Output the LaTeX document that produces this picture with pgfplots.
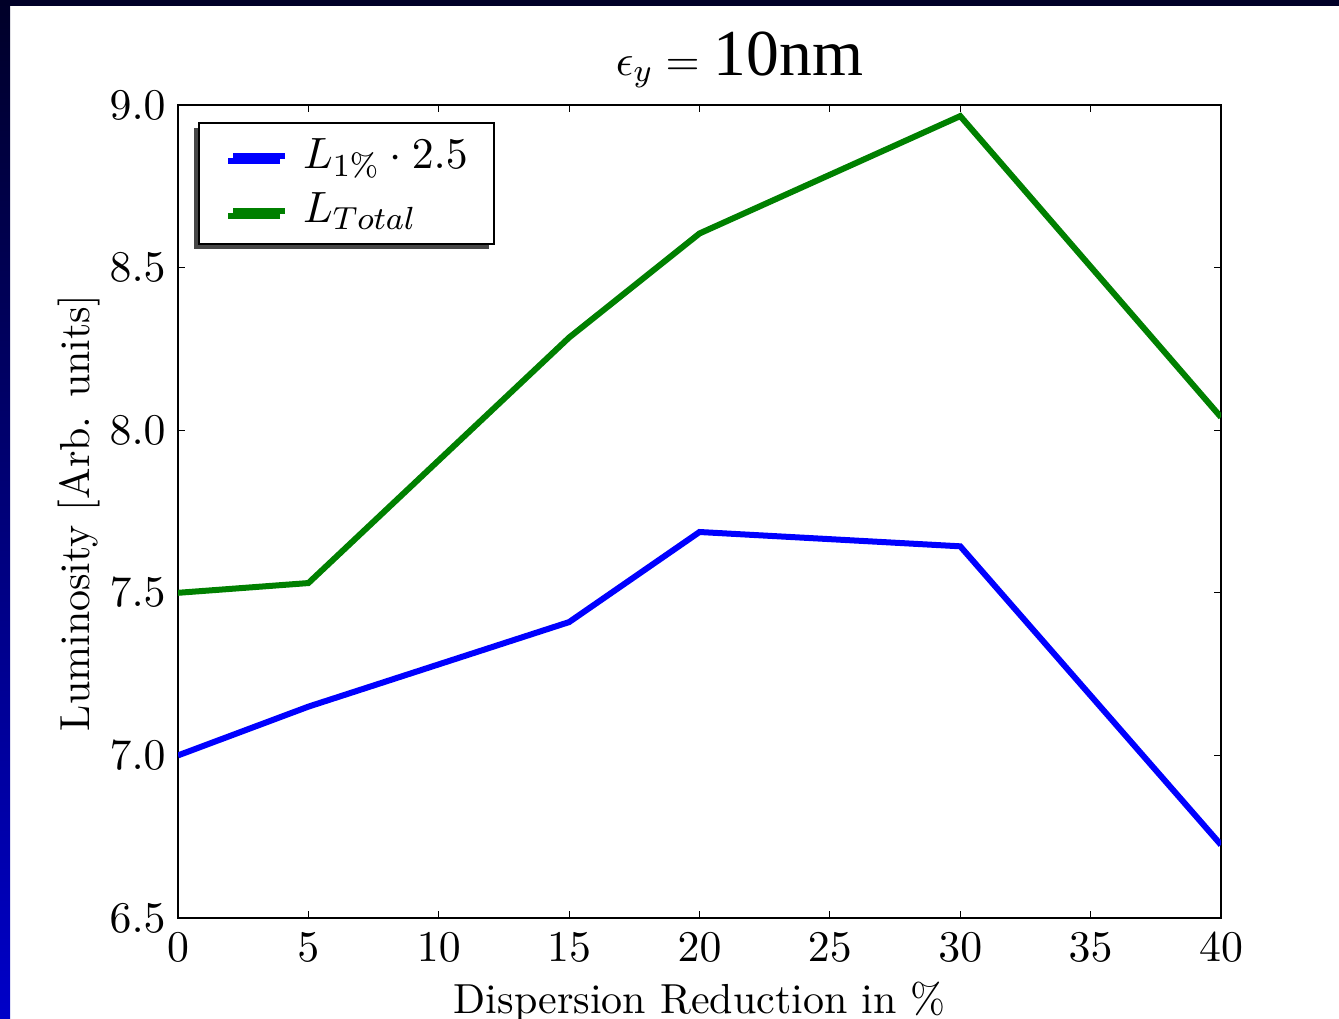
\documentclass[border=0pt]{standalone}
\usepackage{fontspec}
\newfontfamily\timesfont{Liberation Serif}
\usepackage{pgfplots}
\pgfplotsset{compat=1.18}
\usetikzlibrary{shadows}
\definecolor{mplgreen}{RGB}{0,128,0}
\definecolor{mplblue}{RGB}{0,0,255}
\definecolor{navytop}{RGB}{0,0,40}
\definecolor{navybot}{RGB}{0,0,200}
\begin{document}
\fontsize{10.95}{13}\selectfont
\begin{tikzpicture}
\useasboundingbox (0,0) rectangle (334.75pt,-254.5pt);
\clip (0,0) rectangle (334.75pt,-254.5pt);
\fill[white] (0,0) rectangle (334.75pt,-254.5pt);
\shade[top color=navytop, bottom color=navybot] (0,0) rectangle (2.5pt,-254.5pt);
\fill[navytop] (0,0) rectangle (334.75pt,-1.5pt);
\begin{axis}[
  at={(44.5pt,-229.5pt)}, anchor=south west,
  scale only axis, width=260.75pt, height=203.25pt,
  xmin=0, xmax=40, ymin=6.5, ymax=9.0,
  xtick={0,5,...,40}, ytick={6.5,7.0,7.5,8.0,8.5,9.0},
  yticklabel style={xshift=0.75pt, /pgf/number format/.cd, fixed, fixed zerofill, precision=1},
  tick label style={font=\fontsize{10.95}{13}\selectfont},
  tick align=inside, major tick length=1.75pt,
  every tick/.style={black, line width=0.3pt},
  axis line style={line width=0.65pt},
  legend style={at={(rel axis cs:0.0192,0.979)}, anchor=north west,
    draw=black, line width=0.5pt, fill=white,
    drop shadow={shadow xshift=-1.25pt, shadow yshift=-1.25pt, fill=black!72, opacity=1},
    font=\fontsize{10.95}{13}\selectfont,
    inner xsep=7.75pt, inner ysep=1.75pt, row sep=0.5pt},
  legend cell align=left,
  legend image code/.code={\draw[#1] (0pt,0pt) -- (13pt,0pt);},
]
\addplot[mplblue, line width=1.5pt] coordinates {(0,7.0) (5,7.15) (15,7.41) (20,7.687) (30,7.643) (40,6.725)};
\addlegendentry{\kern1.75pt$L_{1\%}\cdot 2.5$\kern-3.25pt}
\addplot[mplgreen, line width=1.5pt] coordinates {(0,7.50) (5,7.53) (15,8.285) (20,8.605) (30,8.966) (40,8.04)};
\addlegendentry{\kern1.75pt$L_{Total}$\rule[-3.65pt]{0pt}{0pt}}
\end{axis}
\node[rotate=90, font=\fontsize{10.5}{12.5}\selectfont] at (19.75pt,-128.25pt) {Luminosity [Arb. units]};
\node[anchor=base, font=\fontsize{10.5}{12.5}\selectfont] at (174.9pt,-253.25pt) {Dispersion Reduction in \%};
\node[anchor=base] at (184.9pt,-18.75pt) {$\epsilon_y = {}$\kern0.5pt{\timesfont\fontsize{16.4}{19}\selectfont 10nm}};
\end{tikzpicture}
\end{document}
